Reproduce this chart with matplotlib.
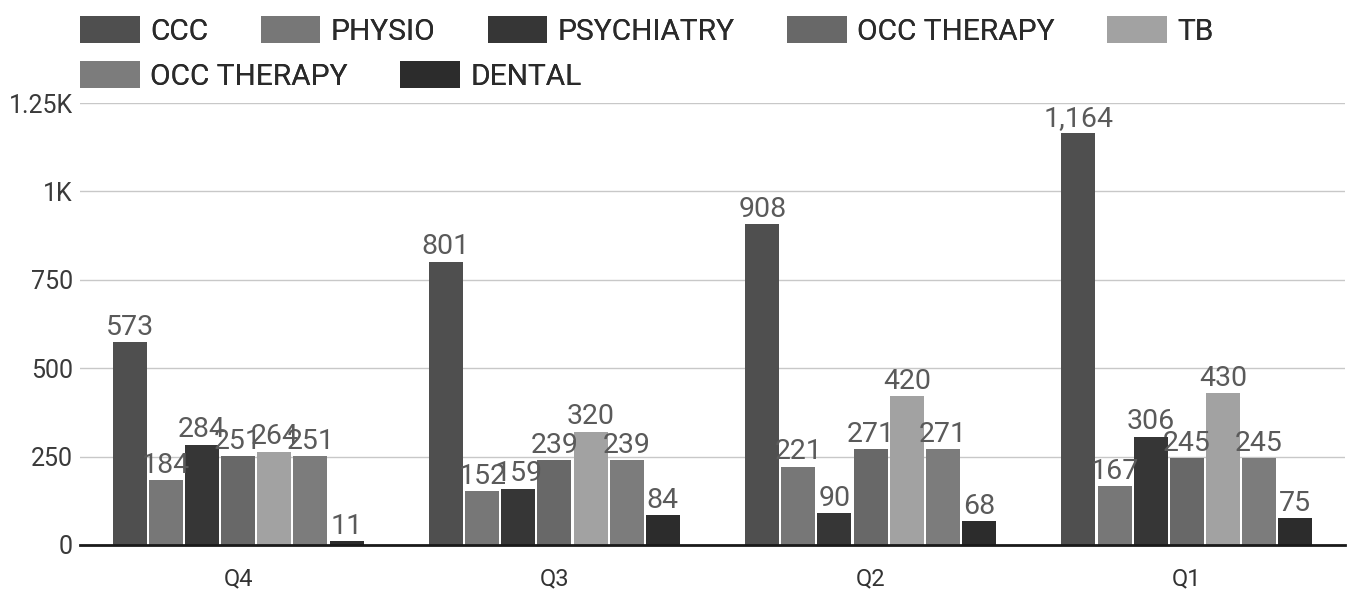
import matplotlib
matplotlib.use("Agg")
import matplotlib.pyplot as plt
import numpy as np
from matplotlib.patches import Patch
from matplotlib.ticker import FixedLocator, FuncFormatter

plt.rcParams['font.family'] = ['Roboto', 'DejaVu Sans']

# Quarterly visit counts per service
quarters = ["Q4", "Q3", "Q2", "Q1"]
services = ["CCC", "PHYSIO", "PSYCHIATRY", "OCC THERAPY", "TB", "OCC THERAPY", "DENTAL"]
ccc = [573, 801, 908, 1164]
physio = [184, 152, 221, 167]
psychiatry = [284, 159, 90, 306]
occ_therapy = [251, 239, 271, 245]
tb = [264, 320, 420, 430]
occ_therapy_2 = [251, 239, 271, 245]
dental = [11, 84, 68, 75]
series = [ccc, physio, psychiatry, occ_therapy, tb, occ_therapy_2, dental]
colors = ["#4f4f4f", "#777777", "#363636", "#686868", "#a2a2a2", "#7c7c7c", "#2c2c2c"]

fig = plt.figure(figsize=(13.49, 5.96), dpi=100)
ax = fig.add_axes([80 / 1349, 51 / 596, 1265 / 1349, 442 / 596])

x = np.arange(len(quarters))
n = len(series)
slot = 0.8 / n
for i, (vals, col) in enumerate(zip(series, colors)):
    pos = x - 0.4 + slot * (i + 0.5)
    bars = ax.bar(pos, vals, width=slot * 0.94, color=col, zorder=3)
    ax.bar_label(bars, labels=[f"{v:,}" for v in vals], padding=1,
                 fontsize=20.5, color="#5a5a5a", zorder=4)

ax.set_xlim(-0.5, len(quarters) - 0.5)
ax.set_ylim(0, 1250)
ax.set_xticks(x)
ax.set_xticklabels(quarters, fontsize=17, color="#333333")
ax.yaxis.set_major_locator(FixedLocator([0, 250, 500, 750, 1000, 1250]))
ax.yaxis.set_major_formatter(FuncFormatter(
    lambda v, _: f"{v / 1000:g}K" if v >= 1000 else f"{v:g}"))
ax.tick_params(axis='y', labelsize=18, labelcolor="#3a3a3a", length=0, pad=5)
ax.tick_params(axis='x', length=0, pad=16)
ax.grid(axis='y', color="#c8c8c8", linewidth=1, zorder=0)
for side in ["top", "right", "left"]:
    ax.spines[side].set_visible(False)
ax.spines["bottom"].set_color("#1a1a1a")
ax.spines["bottom"].set_linewidth(2)
ax.spines["bottom"].set_zorder(5)

# Legend laid out as two flowing rows
handles = [Patch(facecolor=c) for c in colors]
rows = [(range(0, 5), 31), (range(5, 7), 76)]
for idx, ypix in rows:
    leg = fig.legend([handles[i] for i in idx], [services[i] for i in idx],
                     loc="center left", bbox_to_anchor=(80 / 1349, 1 - ypix / 596),
                     ncol=len(idx), frameon=False, fontsize=21.5, borderpad=0,
                     borderaxespad=0, handlelength=2.0, handleheight=1.0,
                     handletextpad=0.35, columnspacing=1.75)
    for t in leg.get_texts():
        t.set_color("#2a2a2a")
    fig.add_artist(leg)

fig.savefig("out.png", dpi=100, facecolor="white")
